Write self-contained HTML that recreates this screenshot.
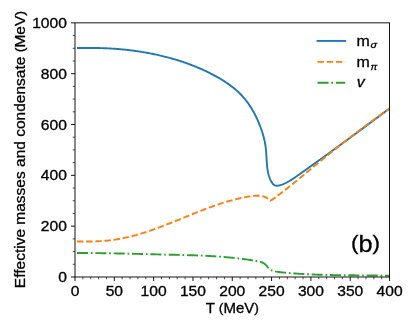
<!DOCTYPE html>
<html lang="en"><head><meta charset="utf-8"><title>Effective masses and condensate</title>
<style>html,body{margin:0;padding:0;background:#fff;overflow:hidden;}svg{display:block;filter:blur(0.4px);}text{font-family:"Liberation Sans", sans-serif;fill:#000;stroke:#000;stroke-width:0.3px;}</style></head><body>
<svg width="415" height="332" viewBox="0 0 415 332">
<rect x="0" y="0" width="415" height="332" fill="#fff"/>
<defs><clipPath id="ax"><rect x="75.00" y="22.85" width="314.55" height="254.15"/></clipPath></defs>
<g clip-path="url(#ax)" fill="none" stroke-width="1.90" stroke-linejoin="round">
<path d="M77.00 48.07 L77.97 48.06 L79.04 48.05 L80.10 48.03 L81.16 48.02 L82.23 48.01 L83.29 48.00 L84.35 47.99 L85.42 47.98 L86.48 47.97 L87.54 47.96 L88.60 47.96 L89.67 47.96 L90.73 47.96 L91.79 47.96 L92.86 47.96 L93.92 47.97 L94.98 47.98 L96.05 47.99 L97.11 48.01 L98.17 48.03 L99.24 48.05 L100.30 48.08 L101.36 48.11 L102.43 48.14 L103.49 48.18 L104.55 48.22 L105.62 48.26 L106.68 48.31 L107.74 48.36 L108.80 48.41 L109.87 48.47 L110.93 48.53 L111.99 48.59 L113.05 48.66 L114.12 48.73 L115.18 48.81 L116.24 48.89 L117.30 48.97 L118.36 49.06 L119.42 49.15 L120.48 49.24 L121.54 49.34 L122.60 49.44 L123.66 49.55 L124.72 49.65 L125.78 49.77 L126.84 49.88 L127.90 50.00 L128.95 50.12 L130.01 50.25 L131.07 50.38 L132.12 50.52 L133.18 50.65 L134.23 50.80 L135.29 50.94 L136.34 51.09 L137.39 51.24 L138.45 51.40 L139.50 51.56 L140.55 51.73 L141.60 51.89 L142.65 52.07 L143.70 52.24 L144.75 52.42 L145.79 52.60 L146.84 52.79 L147.89 52.98 L148.93 53.18 L149.98 53.37 L151.02 53.58 L152.06 53.78 L153.10 53.99 L154.14 54.21 L155.18 54.42 L156.22 54.65 L157.26 54.87 L158.30 55.10 L159.33 55.34 L160.37 55.57 L161.40 55.82 L162.43 56.06 L163.46 56.31 L164.49 56.57 L165.52 56.83 L166.55 57.09 L167.58 57.36 L168.60 57.63 L169.63 57.91 L170.65 58.19 L171.67 58.47 L172.69 58.76 L173.71 59.05 L174.73 59.35 L175.75 59.66 L176.76 59.96 L177.78 60.27 L178.79 60.59 L179.80 60.91 L180.81 61.24 L181.82 61.57 L182.83 61.90 L183.83 62.24 L184.83 62.59 L185.84 62.94 L186.84 63.29 L187.84 63.65 L188.83 64.02 L189.83 64.38 L190.82 64.76 L191.82 65.14 L192.81 65.52 L193.80 65.91 L194.78 66.31 L195.77 66.70 L196.75 67.11 L197.73 67.52 L198.71 67.93 L199.69 68.35 L200.67 68.78 L201.64 69.21 L202.62 69.64 L203.59 70.08 L204.56 70.53 L205.52 70.98 L206.49 71.44 L207.45 71.90 L208.41 72.37 L209.37 72.84 L210.33 73.32 L211.28 73.81 L212.23 74.30 L213.18 74.79 L214.13 75.30 L215.07 75.80 L216.01 76.32 L216.95 76.84 L217.88 77.37 L218.81 77.90 L219.74 78.44 L220.66 78.99 L221.57 79.54 L222.48 80.10 L223.39 80.67 L224.29 81.25 L225.18 81.83 L226.07 82.42 L226.95 83.02 L227.83 83.63 L228.70 84.24 L229.56 84.87 L230.42 85.50 L231.27 86.14 L232.11 86.78 L232.94 87.44 L233.76 88.10 L234.58 88.78 L235.39 89.46 L236.19 90.15 L236.98 90.85 L237.76 91.56 L238.53 92.28 L239.30 93.01 L240.05 93.75 L240.79 94.50 L241.53 95.26 L242.25 96.03 L242.96 96.81 L243.66 97.60 L244.35 98.40 L245.03 99.21 L245.69 100.03 L246.35 100.87 L246.99 101.71 L247.62 102.56 L248.24 103.42 L248.85 104.29 L249.45 105.17 L250.04 106.05 L250.62 106.95 L251.19 107.85 L251.74 108.76 L252.29 109.68 L252.82 110.60 L253.35 111.53 L253.86 112.46 L254.37 113.40 L254.86 114.35 L255.35 115.30 L255.83 116.26 L256.29 117.22 L256.75 118.18 L257.20 119.15 L257.64 120.12 L258.07 121.10 L258.49 122.07 L258.90 123.05 L259.30 124.03 L259.70 125.02 L260.08 126.00 L260.46 126.99 L260.82 127.98 L261.18 128.97 L261.53 129.97 L261.87 130.97 L262.19 131.97 L262.51 132.97 L262.81 133.98 L263.11 134.99 L263.39 136.00 L263.66 137.02 L263.92 138.04 L264.17 139.07 L264.40 140.10 L264.63 141.13 L264.84 142.17 L265.04 143.21 L265.22 144.26 L265.39 145.32 L265.55 146.37 L265.70 147.44 L265.83 148.51 L265.94 149.58 L266.05 150.66 L266.14 151.74 L266.22 152.83 L266.30 153.92 L266.37 155.01 L266.43 156.11 L266.49 157.20 L266.55 158.30 L266.61 159.39 L266.67 160.48 L266.74 161.57 L266.81 162.66 L266.89 163.75 L266.98 164.83 L267.08 165.90 L267.19 166.97 L267.32 168.04 L267.46 169.09 L267.62 170.14 L267.80 171.18 L268.00 172.22 L268.22 173.24 L268.46 174.25 L268.74 175.25 L269.04 176.24 L269.36 177.21 L269.73 178.18 L270.12 179.12 L270.55 180.06 L271.01 180.97 L271.51 181.87 L272.06 182.74 L272.65 183.55 L273.31 184.27 L274.02 184.88 L274.81 185.34 L275.69 185.64 L276.64 185.74 L277.66 185.68 L278.72 185.50 L279.78 185.25 L280.82 184.96 L281.85 184.63 L282.86 184.27 L283.85 183.87 L284.83 183.45 L285.80 183.00 L286.76 182.52 L287.71 182.02 L288.65 181.50 L289.57 180.96 L290.49 180.40 L291.40 179.83 L292.31 179.24 L293.21 178.65 L294.10 178.04 L294.99 177.42 L295.88 176.80 L296.76 176.18 L297.64 175.56 L298.53 174.94 L299.41 174.31 L300.29 173.69 L301.17 173.07 L302.05 172.45 L302.92 171.82 L303.80 171.20 L304.68 170.58 L305.55 169.96 L306.43 169.34 L307.30 168.71 L308.18 168.09 L309.05 167.47 L309.92 166.85 L310.79 166.23 L311.66 165.61 L312.53 164.99 L313.40 164.37 L314.27 163.74 L315.14 163.12 L316.00 162.50 L316.87 161.88 L317.74 161.26 L318.60 160.64 L319.47 160.02 L320.33 159.40 L321.19 158.78 L322.06 158.16 L322.92 157.54 L323.78 156.91 L324.64 156.29 L325.50 155.67 L326.36 155.05 L327.22 154.43 L328.08 153.81 L328.94 153.19 L329.80 152.56 L330.66 151.94 L331.52 151.32 L332.37 150.70 L333.23 150.08 L334.09 149.45 L334.94 148.83 L335.80 148.21 L336.66 147.59 L337.51 146.96 L338.37 146.34 L339.22 145.72 L340.08 145.10 L340.93 144.47 L341.78 143.85 L342.64 143.22 L343.49 142.60 L344.35 141.98 L345.20 141.35 L346.05 140.73 L346.90 140.10 L347.76 139.48 L348.61 138.85 L349.46 138.22 L350.31 137.60 L351.17 136.97 L352.02 136.34 L352.87 135.72 L353.72 135.09 L354.57 134.46 L355.42 133.83 L356.28 133.21 L357.13 132.58 L357.98 131.95 L358.83 131.32 L359.68 130.69 L360.53 130.06 L361.39 129.43 L362.24 128.80 L363.09 128.17 L363.94 127.53 L364.79 126.90 L365.65 126.27 L366.50 125.64 L367.35 125.00 L368.20 124.37 L369.06 123.74 L369.91 123.10 L370.76 122.47 L371.62 121.83 L372.47 121.19 L373.32 120.56 L374.18 119.92 L375.03 119.28 L375.88 118.64 L376.74 118.01 L377.59 117.37 L378.45 116.73 L379.31 116.09 L380.16 115.45 L381.02 114.80 L381.87 114.16 L382.73 113.52 L383.59 112.88 L384.45 112.23 L385.30 111.59 L386.16 110.94 L387.02 110.30 L387.88 109.65 L388.74 109.01 L389.60 108.36" stroke="#1f77b4" stroke-linecap="butt"/>
<path d="M77.00 241.48 L77.87 241.49 L79.05 241.50 L80.23 241.51 L81.42 241.52 L82.60 241.53 L83.79 241.54 L84.97 241.54 L86.15 241.54 L87.34 241.53 L88.52 241.52 L89.70 241.51 L90.89 241.49 L92.07 241.47 L93.25 241.44 L94.43 241.41 L95.61 241.37 L96.78 241.32 L97.96 241.27 L99.14 241.22 L100.31 241.15 L101.49 241.08 L102.66 241.00 L103.83 240.92 L105.00 240.82 L106.17 240.72 L107.33 240.61 L108.50 240.49 L109.66 240.36 L110.82 240.23 L111.98 240.08 L113.14 239.92 L114.29 239.76 L115.45 239.59 L116.60 239.40 L117.75 239.21 L118.90 239.01 L120.05 238.80 L121.19 238.59 L122.33 238.36 L123.48 238.13 L124.62 237.89 L125.76 237.64 L126.89 237.39 L128.03 237.12 L129.16 236.85 L130.30 236.58 L131.43 236.29 L132.56 236.00 L133.69 235.70 L134.81 235.40 L135.94 235.09 L137.06 234.77 L138.19 234.45 L139.31 234.12 L140.43 233.79 L141.55 233.45 L142.67 233.11 L143.79 232.76 L144.90 232.40 L146.02 232.04 L147.13 231.67 L148.25 231.30 L149.36 230.93 L150.47 230.55 L151.58 230.17 L152.69 229.78 L153.80 229.39 L154.91 228.99 L156.01 228.59 L157.12 228.19 L158.22 227.78 L159.33 227.37 L160.43 226.96 L161.54 226.54 L162.64 226.12 L163.74 225.70 L164.84 225.28 L165.94 224.85 L167.04 224.42 L168.14 223.99 L169.24 223.56 L170.33 223.12 L171.43 222.69 L172.53 222.25 L173.63 221.81 L174.72 221.37 L175.82 220.92 L176.91 220.48 L178.01 220.04 L179.10 219.59 L180.20 219.15 L181.29 218.70 L182.38 218.25 L183.48 217.81 L184.57 217.36 L185.67 216.92 L186.76 216.47 L187.85 216.02 L188.94 215.58 L190.04 215.13 L191.13 214.69 L192.22 214.25 L193.32 213.81 L194.41 213.37 L195.50 212.93 L196.60 212.49 L197.69 212.06 L198.78 211.62 L199.88 211.19 L200.97 210.76 L202.07 210.33 L203.16 209.91 L204.26 209.49 L205.36 209.07 L206.45 208.65 L207.55 208.24 L208.65 207.83 L209.75 207.42 L210.85 207.02 L211.96 206.62 L213.06 206.23 L214.16 205.84 L215.27 205.45 L216.38 205.07 L217.48 204.69 L218.59 204.31 L219.70 203.95 L220.82 203.58 L221.93 203.22 L223.04 202.87 L224.16 202.52 L225.28 202.18 L226.40 201.84 L227.52 201.51 L228.64 201.18 L229.77 200.86 L230.90 200.55 L232.02 200.24 L233.16 199.94 L234.29 199.65 L235.42 199.36 L236.56 199.08 L237.70 198.81 L238.84 198.54 L239.99 198.28 L241.13 198.03 L242.28 197.79 L243.43 197.55 L244.59 197.33 L245.74 197.11 L246.90 196.90 L248.06 196.69 L249.23 196.50 L250.40 196.32 L251.57 196.14 L252.74 195.99 L253.90 195.86 L255.07 195.75 L256.23 195.69 L257.39 195.66 L258.54 195.68 L259.68 195.75 L260.81 195.88 L261.93 196.08 L263.03 196.35 L264.12 196.69 L265.19 197.12 L266.25 197.63 L267.28 198.24 L268.29 198.95 L269.28 199.76 L270.25 200.69 L271.44 200.23 L272.26 199.64 L273.08 199.05 L273.89 198.46 L274.71 197.87 L275.52 197.28 L276.34 196.68 L277.15 196.08 L277.95 195.47 L278.76 194.87 L279.57 194.26 L280.37 193.65 L281.17 193.04 L281.97 192.42 L282.77 191.81 L283.57 191.19 L284.36 190.57 L285.16 189.95 L285.95 189.32 L286.74 188.70 L287.54 188.07 L288.33 187.44 L289.12 186.81 L289.90 186.18 L290.69 185.54 L291.48 184.91 L292.26 184.27 L293.05 183.64 L293.83 183.00 L294.62 182.36 L295.40 181.72 L296.18 181.08 L296.96 180.44 L297.74 179.80 L298.53 179.16 L299.31 178.51 L300.09 177.87 L300.87 177.23 L301.65 176.58 L302.43 175.94 L303.21 175.29 L303.99 174.65 L304.77 174.01 L305.55 173.36 L306.33 172.72 L307.11 172.07 L307.89 171.43 L308.67 170.79 L309.45 170.14 L310.23 169.50 L311.01 168.86 L311.80 168.21 L312.58 167.57 L313.36 166.93 L314.14 166.29 L314.92 165.64 L315.71 165.00 L316.49 164.36 L317.27 163.72 L318.05 163.08 L318.84 162.44 L319.62 161.80 L320.41 161.16 L321.19 160.52 L321.97 159.88 L322.76 159.24 L323.54 158.60 L324.33 157.96 L325.12 157.32 L325.90 156.69 L326.69 156.05 L327.47 155.41 L328.26 154.78 L329.05 154.14 L329.84 153.51 L330.63 152.87 L331.41 152.24 L332.20 151.60 L332.99 150.97 L333.78 150.34 L334.57 149.70 L335.36 149.07 L336.15 148.44 L336.95 147.81 L337.74 147.18 L338.53 146.55 L339.32 145.92 L340.12 145.29 L340.91 144.67 L341.70 144.04 L342.50 143.41 L343.29 142.79 L344.09 142.16 L344.88 141.54 L345.68 140.91 L346.48 140.29 L347.28 139.67 L348.07 139.04 L348.87 138.42 L349.67 137.80 L350.47 137.18 L351.27 136.56 L352.07 135.95 L352.88 135.33 L353.68 134.71 L354.48 134.10 L355.29 133.48 L356.09 132.87 L356.89 132.25 L357.70 131.64 L358.51 131.03 L359.31 130.42 L360.12 129.81 L360.93 129.20 L361.74 128.59 L362.55 127.98 L363.36 127.38 L364.17 126.77 L364.98 126.17 L365.79 125.56 L366.60 124.96 L367.42 124.36 L368.23 123.76 L369.05 123.16 L369.86 122.56 L370.68 121.96 L371.50 121.36 L372.31 120.77 L373.13 120.17 L373.95 119.58 L374.77 118.99 L375.59 118.40 L376.42 117.81 L377.24 117.22 L378.06 116.63 L378.89 116.04 L379.71 115.45 L380.54 114.87 L381.37 114.29 L382.19 113.70 L383.02 113.12 L383.85 112.54 L384.68 111.96 L385.51 111.39 L386.35 110.81 L387.18 110.23 L388.01 109.66 L388.85 109.09 L389.69 108.52" stroke="#ff7f0e" stroke-dasharray="6.40 2.77"/>
<path d="M77.00 252.95 L77.19 252.95 L78.59 252.95 L79.99 252.96 L81.39 252.96 L82.79 252.97 L84.19 252.98 L85.59 252.99 L86.99 253.00 L88.38 253.02 L89.78 253.03 L91.18 253.04 L92.58 253.06 L93.98 253.08 L95.38 253.09 L96.77 253.11 L98.17 253.13 L99.57 253.15 L100.97 253.17 L102.37 253.19 L103.76 253.21 L105.16 253.23 L106.56 253.25 L107.96 253.28 L109.36 253.30 L110.75 253.33 L112.15 253.35 L113.55 253.38 L114.95 253.40 L116.35 253.43 L117.74 253.46 L119.14 253.49 L120.54 253.52 L121.94 253.54 L123.33 253.57 L124.73 253.60 L126.13 253.63 L127.53 253.67 L128.93 253.70 L130.32 253.73 L131.72 253.76 L133.12 253.79 L134.52 253.83 L135.92 253.86 L137.31 253.89 L138.71 253.92 L140.11 253.96 L141.51 253.99 L142.91 254.03 L144.31 254.06 L145.70 254.09 L147.10 254.13 L148.50 254.16 L149.90 254.20 L151.30 254.23 L152.70 254.27 L154.10 254.30 L155.49 254.34 L156.89 254.37 L158.29 254.41 L159.69 254.44 L161.09 254.48 L162.49 254.51 L163.89 254.54 L165.29 254.58 L166.69 254.61 L168.09 254.65 L169.49 254.68 L170.89 254.72 L172.29 254.75 L173.69 254.78 L175.09 254.82 L176.49 254.85 L177.89 254.88 L179.29 254.92 L180.69 254.95 L182.09 254.99 L183.49 255.03 L184.90 255.06 L186.30 255.10 L187.70 255.14 L189.10 255.18 L190.50 255.23 L191.90 255.27 L193.30 255.32 L194.70 255.36 L196.10 255.41 L197.50 255.46 L198.90 255.52 L200.30 255.57 L201.69 255.63 L203.09 255.69 L204.49 255.76 L205.89 255.82 L207.29 255.89 L208.69 255.96 L210.08 256.04 L211.48 256.11 L212.88 256.19 L214.27 256.28 L215.67 256.37 L217.07 256.46 L218.46 256.55 L219.86 256.65 L221.25 256.76 L222.65 256.86 L224.04 256.98 L225.43 257.09 L226.82 257.21 L228.22 257.34 L229.61 257.47 L231.00 257.60 L232.39 257.74 L233.78 257.89 L235.17 258.04 L236.56 258.19 L237.95 258.35 L239.33 258.52 L240.72 258.69 L242.11 258.87 L243.49 259.05 L244.88 259.24 L246.26 259.43 L247.65 259.64 L249.03 259.84 L250.41 260.06 L251.79 260.28 L253.17 260.51 L254.55 260.74 L255.93 260.98 L257.31 261.23 L258.68 261.50 L260.03 261.81 L261.35 262.20 L262.61 262.69 L263.81 263.33 L264.92 264.14 L265.94 265.12 L266.92 266.22 L267.88 267.33 L268.88 268.38 L269.96 269.27 L271.12 270.00 L272.35 270.58 L273.65 271.03 L274.98 271.38 L276.35 271.65 L277.73 271.87 L279.12 272.05 L280.52 272.21 L281.92 272.35 L283.32 272.49 L284.72 272.63 L286.12 272.76 L287.52 272.88 L288.91 273.01 L290.31 273.12 L291.71 273.24 L293.11 273.34 L294.51 273.45 L295.91 273.55 L297.31 273.65 L298.71 273.74 L300.10 273.83 L301.50 273.91 L302.90 274.00 L304.30 274.08 L305.70 274.15 L307.09 274.22 L308.49 274.29 L309.89 274.36 L311.29 274.42 L312.68 274.48 L314.08 274.54 L315.48 274.59 L316.88 274.64 L318.28 274.69 L319.67 274.74 L321.07 274.78 L322.47 274.82 L323.86 274.86 L325.26 274.90 L326.66 274.93 L328.06 274.97 L329.45 275.00 L330.85 275.03 L332.25 275.05 L333.65 275.08 L335.04 275.10 L336.44 275.13 L337.84 275.15 L339.24 275.17 L340.63 275.19 L342.03 275.20 L343.43 275.22 L344.83 275.24 L346.23 275.25 L347.62 275.26 L349.02 275.28 L350.42 275.29 L351.82 275.30 L353.22 275.31 L354.61 275.32 L356.01 275.33 L357.41 275.35 L358.81 275.36 L360.21 275.37 L361.61 275.38 L363.01 275.39 L364.40 275.40 L365.80 275.41 L367.20 275.42 L368.60 275.43 L370.00 275.44 L371.40 275.46 L372.80 275.47 L374.20 275.49 L375.60 275.50 L377.00 275.52 L378.40 275.54 L379.80 275.55 L381.20 275.57 L382.60 275.60 L384.00 275.62 L385.40 275.64 L386.80 275.67 L388.21 275.70 L389.61 275.72" stroke="#2ca02c" stroke-dasharray="11.07 2.77 1.73 2.77"/>
</g>
<path d="M75.00 277.00 v4.03 M114.32 277.00 v4.03 M153.64 277.00 v4.03 M192.96 277.00 v4.03 M232.28 277.00 v4.03 M271.59 277.00 v4.03 M310.91 277.00 v4.03 M350.23 277.00 v4.03 M389.55 277.00 v4.03 M75.00 277.00 h-4.03 M75.00 226.17 h-4.03 M75.00 175.34 h-4.03 M75.00 124.51 h-4.03 M75.00 73.68 h-4.03 M75.00 22.85 h-4.03" stroke="#000" stroke-width="0.92" fill="none"/>
<path d="M82.86 277.00 v2.31 M90.73 277.00 v2.31 M98.59 277.00 v2.31 M106.45 277.00 v2.31 M122.18 277.00 v2.31 M130.05 277.00 v2.31 M137.91 277.00 v2.31 M145.77 277.00 v2.31 M161.50 277.00 v2.31 M169.37 277.00 v2.31 M177.23 277.00 v2.31 M185.09 277.00 v2.31 M200.82 277.00 v2.31 M208.68 277.00 v2.31 M216.55 277.00 v2.31 M224.41 277.00 v2.31 M240.14 277.00 v2.31 M248.00 277.00 v2.31 M255.87 277.00 v2.31 M263.73 277.00 v2.31 M279.46 277.00 v2.31 M287.32 277.00 v2.31 M295.19 277.00 v2.31 M303.05 277.00 v2.31 M318.78 277.00 v2.31 M326.64 277.00 v2.31 M334.50 277.00 v2.31 M342.37 277.00 v2.31 M358.10 277.00 v2.31 M365.96 277.00 v2.31 M373.82 277.00 v2.31 M381.69 277.00 v2.31 M75.00 264.29 h-2.31 M75.00 251.59 h-2.31 M75.00 238.88 h-2.31 M75.00 213.46 h-2.31 M75.00 200.75 h-2.31 M75.00 188.05 h-2.31 M75.00 162.63 h-2.31 M75.00 149.93 h-2.31 M75.00 137.22 h-2.31 M75.00 111.80 h-2.31 M75.00 99.09 h-2.31 M75.00 86.39 h-2.31 M75.00 60.97 h-2.31 M75.00 48.26 h-2.31 M75.00 35.56 h-2.31" stroke="#000" stroke-width="0.69" fill="none"/>
<rect x="75.00" y="22.85" width="314.55" height="254.15" fill="none" stroke="#000" stroke-width="0.92"/>
<text transform="translate(75.00 295.60) scale(1.1000 1)" font-size="14.20" text-anchor="middle">0</text>
<text transform="translate(114.32 295.60) scale(1.1000 1)" font-size="14.20" text-anchor="middle">50</text>
<text transform="translate(153.64 295.60) scale(1.1000 1)" font-size="14.20" text-anchor="middle">100</text>
<text transform="translate(192.96 295.60) scale(1.1000 1)" font-size="14.20" text-anchor="middle">150</text>
<text transform="translate(232.28 295.60) scale(1.1000 1)" font-size="14.20" text-anchor="middle">200</text>
<text transform="translate(271.59 295.60) scale(1.1000 1)" font-size="14.20" text-anchor="middle">250</text>
<text transform="translate(310.91 295.60) scale(1.1000 1)" font-size="14.20" text-anchor="middle">300</text>
<text transform="translate(350.23 295.60) scale(1.1000 1)" font-size="14.20" text-anchor="middle">350</text>
<text transform="translate(389.55 295.60) scale(1.1000 1)" font-size="14.20" text-anchor="middle">400</text>
<text transform="translate(66.90 282.10) scale(1.1000 1)" font-size="14.20" text-anchor="end">0</text>
<text transform="translate(66.90 231.27) scale(1.1000 1)" font-size="14.20" text-anchor="end">200</text>
<text transform="translate(66.90 180.44) scale(1.1000 1)" font-size="14.20" text-anchor="end">400</text>
<text transform="translate(66.90 129.61) scale(1.1000 1)" font-size="14.20" text-anchor="end">600</text>
<text transform="translate(66.90 78.78) scale(1.1000 1)" font-size="14.20" text-anchor="end">800</text>
<text transform="translate(66.90 27.95) scale(1.1000 1)" font-size="14.20" text-anchor="end">1000</text>
<text transform="translate(232.30 312.80) scale(1.0650 1)" font-size="14.10" text-anchor="middle">T <tspan font-size="13.10" dy="-0.95">(</tspan><tspan dy="0.95">MeV</tspan><tspan font-size="13.10" dy="-0.95">)</tspan></text>
<text transform="translate(24.90 149.50) rotate(-90) scale(1.1000 1)" font-size="14.10" text-anchor="middle">Effective masses and condensate <tspan font-size="13.10" dy="-0.95">(</tspan><tspan dy="0.95">MeV</tspan><tspan font-size="13.10" dy="-0.95">)</tspan></text>
<text transform="translate(351.00 251.60) scale(1.1000 1)" font-size="23.00" text-anchor="start"><tspan font-size="20.50" dy="-1.30">(</tspan><tspan dy="1.30">b</tspan><tspan font-size="20.50" dy="-1.30">)</tspan></text>
<path d="M317.50 40.90 H345.20" stroke="#1f77b4" stroke-width="1.90" fill="none" stroke-linecap="square"/>
<path d="M317.50 61.90 H345.20" stroke="#ff7f0e" stroke-width="1.90" fill="none" stroke-linecap="butt" stroke-dasharray="6.40 2.77"/>
<path d="M317.50 82.70 H345.20" stroke="#2ca02c" stroke-width="1.90" fill="none" stroke-linecap="butt" stroke-dasharray="11.07 2.77 1.73 2.77"/>
<text transform="translate(356.60 45.85) scale(1.1300 1)" font-size="14.10" text-anchor="start">m<tspan font-style="italic" font-size="9.60" dx="0.50" dy="2.10">σ</tspan></text>
<text transform="translate(356.60 66.90) scale(1.1300 1)" font-size="14.10" text-anchor="start">m<tspan font-style="italic" font-size="8.93" dx="0.50" dy="2.60">π</tspan></text>
<text transform="translate(356.70 87.10) scale(1.1300 1)" font-size="14.10" text-anchor="start"><tspan font-style="italic">v</tspan></text>
</svg></body></html>
